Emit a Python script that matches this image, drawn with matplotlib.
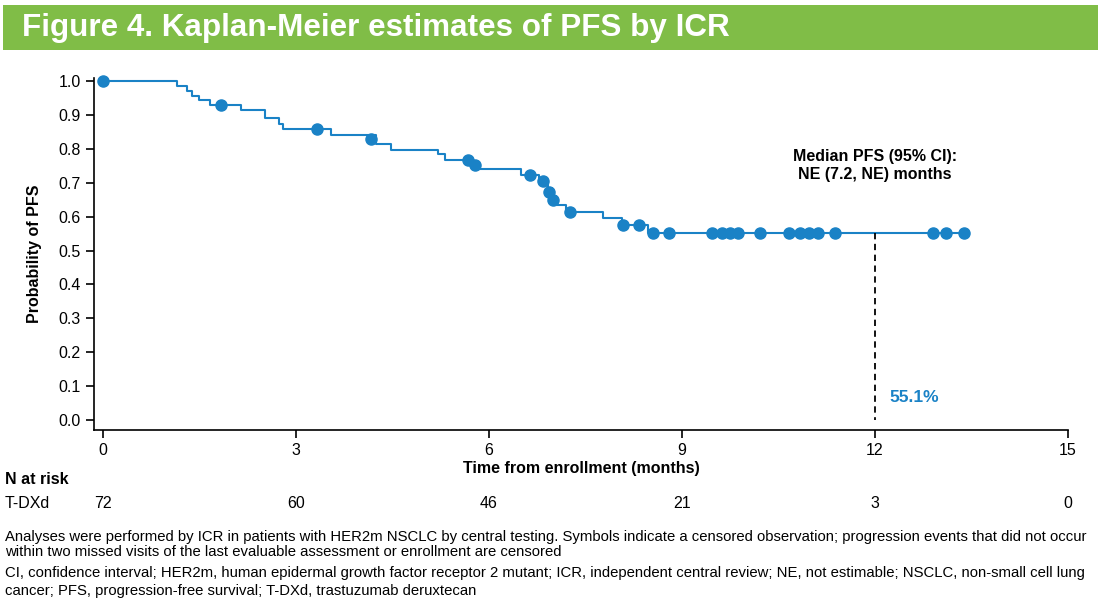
import matplotlib
matplotlib.use("Agg")
import matplotlib.pyplot as plt
import matplotlib.transforms as mtransforms
from matplotlib.patches import Rectangle
import numpy as np

plt.rcParams['font.family'] = ['Liberation Sans', 'DejaVu Sans']

# ---- data ----
step_times = [0.0, 1.15, 1.30, 1.38, 1.49, 1.66, 2.15, 2.52, 2.74, 2.80, 3.54, 4.25,
              4.48, 5.21, 5.31, 5.73, 5.81, 6.50, 6.78, 6.91, 6.98, 7.04, 7.20,
              7.77, 8.07, 8.47, 13.40]
step_surv = [1.0, 0.986, 0.972, 0.958, 0.944, 0.931, 0.914, 0.891, 0.875, 0.858, 0.843, 0.816,
             0.798, 0.785, 0.769, 0.753, 0.740, 0.722, 0.706, 0.686, 0.662, 0.634, 0.614,
             0.596, 0.576, 0.551, 0.551]
censor_times = [0.0, 1.84, 3.32, 4.16, 5.68, 5.78, 6.63, 6.84, 6.94, 7.00, 7.26,
                8.08, 8.33, 8.55, 8.80, 9.47, 9.62, 9.75, 9.87, 10.22, 10.67, 10.84,
                10.97, 11.11, 11.38, 12.90, 13.10, 13.39]
censor_surv = [1.0, 0.931, 0.858, 0.829, 0.769, 0.752, 0.722, 0.706, 0.673, 0.649, 0.614,
               0.576, 0.576, 0.551, 0.551, 0.551, 0.551, 0.551, 0.551, 0.551, 0.551, 0.551,
               0.551, 0.551, 0.551, 0.551, 0.551, 0.551]
landmark_time = 12
landmark_surv = 0.551
x_ticks = [0, 3, 6, 9, 12, 15]
y_ticks = [0.0, 0.1, 0.2, 0.3, 0.4, 0.5, 0.6, 0.7, 0.8, 0.9, 1.0]
n_at_risk = [72, 60, 46, 21, 3, 0]

title = "Figure 4. Kaplan-Meier estimates of PFS by ICR"
footnotes = [
    "Analyses were performed by ICR in patients with HER2m NSCLC by central testing. Symbols indicate a censored observation; progression events that did not occur",
    "within two missed visits of the last evaluable assessment or enrollment are censored",
    "CI, confidence interval; HER2m, human epidermal growth factor receptor 2 mutant; ICR, independent central review; NE, not estimable; NSCLC, non-small cell lung",
    "cancer; PFS, progression-free survival; T-DXd, trastuzumab deruxtecan",
]

BLUE = "#1A82C6"
GREEN = "#80BD47"

W, H = 1107, 610
fig = plt.figure(figsize=(W / 100, H / 100), dpi=100)

# Title banner
fig.patches.append(Rectangle((3 / W, 1 - 50 / H), 1095 / W, 45 / H, transform=fig.transFigure,
                             facecolor=GREEN, edgecolor="none"))
fig.text(22 / W, 1 - 28 / H, title, color="white", fontsize=22.6, fontweight="bold",
         va="center", ha="left")

ax = fig.add_axes([94 / W, 1 - 430 / H, (1068 - 94) / W, (430 - 78) / H])
ax.step(step_times, step_surv, where="post", color=BLUE, lw=1.5)
ax.plot(censor_times, censor_surv, "o", color=BLUE, ms=8, mec=BLUE, zorder=3, clip_on=False)
ax.plot([landmark_time, landmark_time], [landmark_surv, 0.0], color="black", lw=1.3,
        ls=(0, (3.5, 2.5)))

ax.set_xlim(-0.14, 15)
ax.set_ylim(-0.03, 1.01)
ax.set_xticks(x_ticks)
ax.set_yticks(y_ticks)
ax.set_yticklabels([f"{v:.1f}" for v in y_ticks])
ax.tick_params(labelsize=11.5, length=6, width=1.2, direction="out")
for s in ["top", "right"]:
    ax.spines[s].set_visible(False)
for s in ["left", "bottom"]:
    ax.spines[s].set_linewidth(1.2)

ax.set_xlabel("Time from enrollment (months)", fontsize=11.5, fontweight="bold", labelpad=2)
ax.set_ylabel("Probability of PFS", fontsize=11.5, fontweight="bold", labelpad=12)

ax.text(12.0, 0.752, "Median PFS (95% CI):\nNE (7.2, NE) months", ha="center", va="center",
        fontsize=11.5, fontweight="bold", linespacing=1.3)
ax.text(12.22, 0.065, f"{landmark_surv*100:.1f}%", color=BLUE, fontsize=12.5, fontweight="bold",
        ha="left", va="center")

# N at risk table
fig.text(5 / W, 1 - 480 / H, "N at risk", fontsize=11.5, fontweight="bold", va="center")
fig.text(5 / W, 1 - 503 / H, "T-DXd", fontsize=11.5, va="center")
trans = mtransforms.blended_transform_factory(ax.transData, fig.transFigure)
for xt, n in zip(x_ticks, n_at_risk):
    ax.text(xt, 1 - 503 / H, str(n), transform=trans, fontsize=11.5, ha="center", va="center")

for yy, line in zip([537, 552, 573, 591], footnotes):
    fig.text(5 / W, 1 - yy / H, line, fontsize=10.7, va="center", ha="left")

fig.savefig("out.png", dpi=100)
